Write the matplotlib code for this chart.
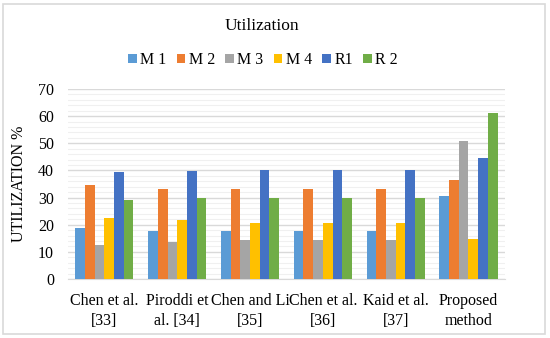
import numpy as np
import matplotlib.pyplot as plt
from matplotlib.patches import Rectangle

# data
methods = ["Chen et al.\n[33]", "Piroddi et\nal. [34]", "Chen and Li\n[35]",
           "Chen et al.\n[36]", "Kaid et al.\n[37]", "Proposed\nmethod"]
series = ["M 1", "M 2", "M 3", "M 4", "R1", "R 2"]
m1 = [18.7, 17.6, 17.6, 17.6, 17.6, 30.5]
m2 = [34.8, 33.2, 33.2, 33.2, 33.2, 36.3]
m3 = [12.4, 13.7, 14.3, 14.3, 14.3, 51.0]
m4 = [22.4, 21.6, 20.6, 20.6, 20.6, 14.9]
r1 = [39.4, 39.8, 40.2, 40.2, 40.2, 44.4]
r2 = [29.1, 29.9, 29.9, 29.9, 29.9, 61.0]
colors = ["#5B9BD5", "#ED7D31", "#A5A5A5", "#FFC000", "#4472C4", "#70AD47"]

plt.rcParams['font.family'] = ['Liberation Serif', 'DejaVu Serif']

fig = plt.figure(figsize=(5.5, 3.38), dpi=100)
# light outer frame like the excel chart area
fig.patches.append(Rectangle((0.006, 0.012), 0.985, 0.976, transform=fig.transFigure,
                             fill=False, edgecolor="#D9D9D9", lw=1.2))

ax = fig.add_axes([0.1236, 0.1746, 0.7944, 0.5621])
x = np.arange(len(methods))
w = 0.133
for i, (vals, name) in enumerate(zip([m1, m2, m3, m4, r1, r2], series)):
    ax.bar(x + (i - 2.5) * w, vals, w, color=colors[i], label=name, zorder=3)

ax.set_xlim(-0.5, len(methods) - 0.5)
ax.set_ylim(0, 70)
ax.set_yticks(np.arange(0, 71, 10))
ax.set_yticks(np.arange(0, 71, 2), minor=True)
ax.grid(axis="y", which="major", color="#D9D9D9", lw=1.0, zorder=0)
ax.grid(axis="y", which="minor", color="#F0F0F0", lw=0.8, zorder=0)
ax.set_xticks(x)
ax.set_xticklabels(methods, fontsize=11.5, linespacing=1.35)
ax.tick_params(axis="both", which="both", length=0, labelsize=11.5, pad=10)
ax.tick_params(axis="y", pad=10)
for s in ["top", "right", "left"]:
    ax.spines[s].set_visible(False)
ax.spines["bottom"].set_color("#D9D9D9")
ax.set_ylabel("UTILIZATION %", fontsize=11.5, labelpad=8)

fig.text(0.477, 0.922, "Utilization", ha="center", va="center", fontsize=12.5)
fig.legend(loc="center", bbox_to_anchor=(0.478, 0.822), ncol=6, frameon=False,
           fontsize=11.5, handlelength=0.55, handleheight=0.55, handletextpad=0.2,
           columnspacing=0.65)

fig.savefig("out.png", dpi=100)
